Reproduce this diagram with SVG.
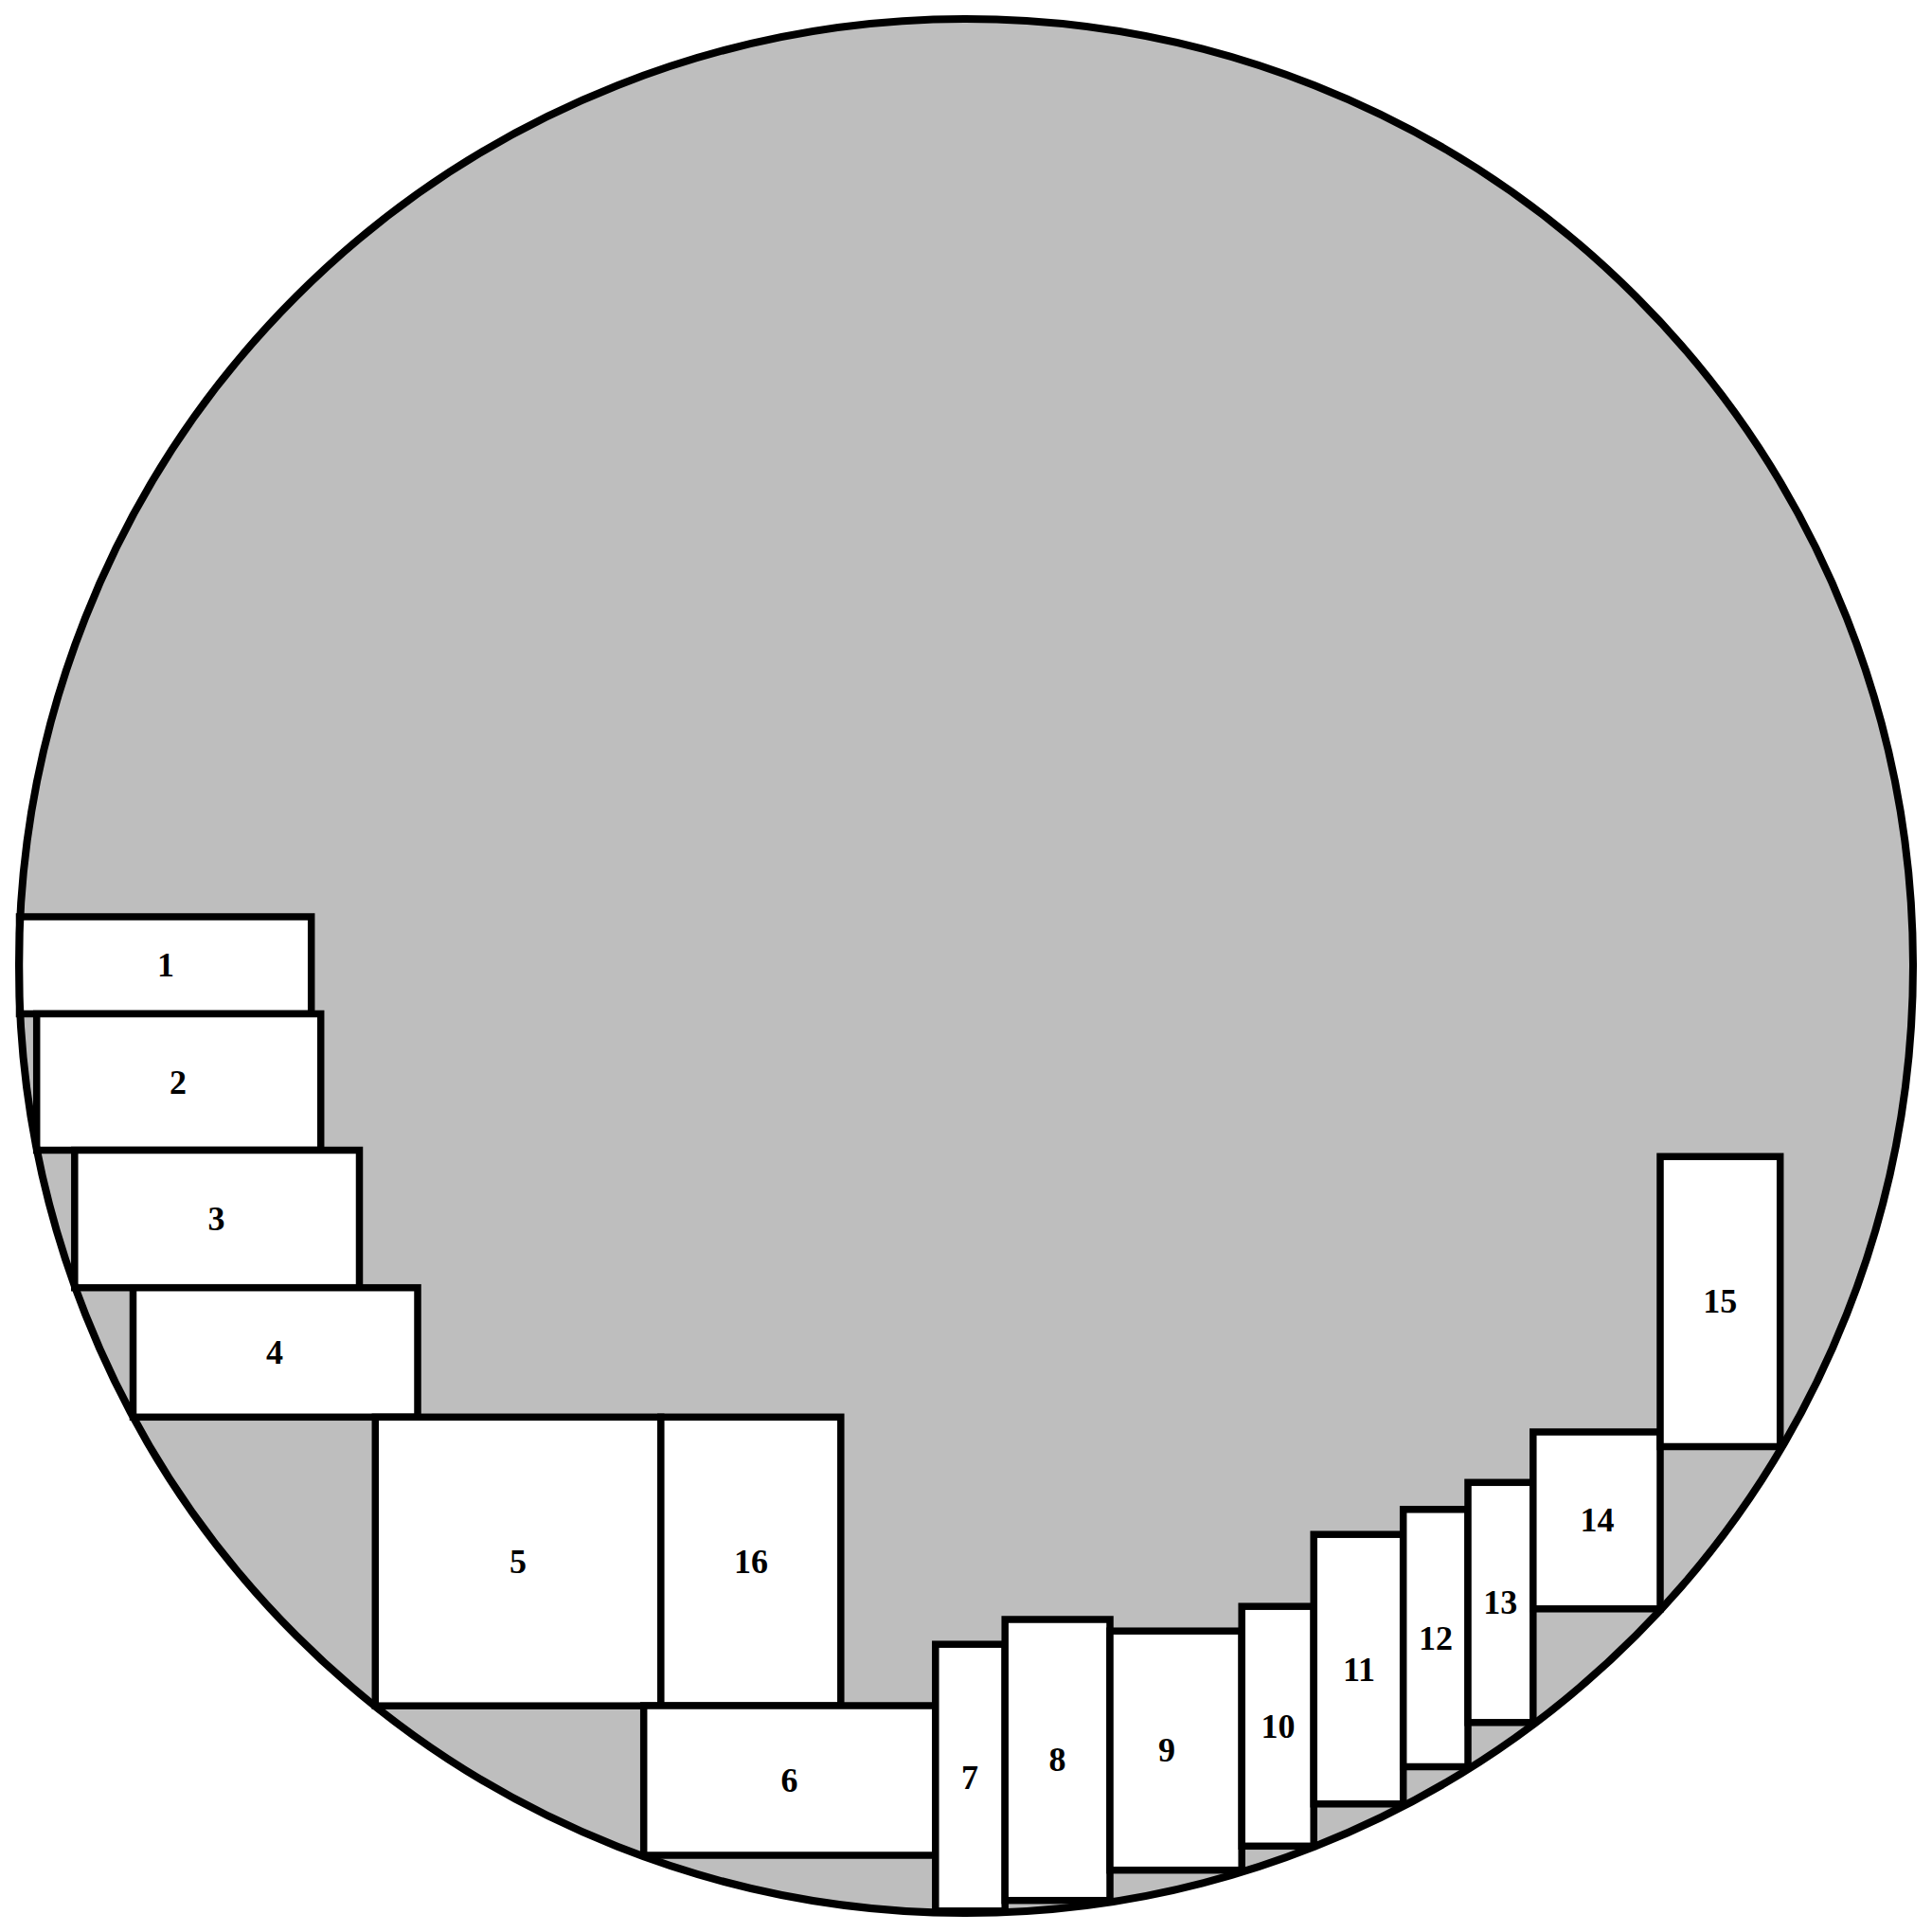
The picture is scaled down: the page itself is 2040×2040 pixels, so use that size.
<svg xmlns="http://www.w3.org/2000/svg" width="2040" height="2040" viewBox="0 0 2040 2040">
<style>
.bg{fill:#ffffff}
.disk{fill:#bebebe;stroke:none}
.rim{fill:none;stroke:#000;stroke-width:8}
.box{fill:#ffffff;stroke:#000;stroke-width:7.5}
.lbl{font-family:"Liberation Serif","Times New Roman",serif;font-weight:bold;font-size:36px;text-anchor:middle;fill:#000}
</style>
<rect class="bg" x="0" y="0" width="2040" height="2040"/>
<circle class="disk" cx="1020" cy="1020" r="1000"/>
<g id="nodes">
<g id="node1"><rect class="box" x="20.5" y="968" width="308.2" height="102.5"/><text class="lbl" x="175" y="1031.3">1</text></g>
<g id="node2"><rect class="box" x="38.7" y="1070.5" width="300" height="144"/><text class="lbl" x="188" y="1154.5">2</text></g>
<g id="node3"><rect class="box" x="78.8" y="1214.5" width="300.7" height="145.2"/><text class="lbl" x="228.5" y="1299.1">3</text></g>
<g id="node4"><rect class="box" x="140.5" y="1359.7" width="300.5" height="136.6"/><text class="lbl" x="290" y="1440">4</text></g>
<g id="node5"><rect class="box" x="396.3" y="1496.3" width="301.5" height="304.9"/><text class="lbl" x="547" y="1660.8">5</text></g>
<g id="node16"><rect class="box" x="697.8" y="1496.3" width="190" height="304.9"/><text class="lbl" x="793" y="1660.8">16</text></g>
<g id="node6"><rect class="box" x="679.7" y="1801" width="308.1" height="158"/><text class="lbl" x="833.5" y="1892">6</text></g>
<g id="node7"><rect class="box" x="987.8" y="1736.2" width="73.4" height="281.6"/><text class="lbl" x="1024" y="1889">7</text></g>
<g id="node8"><rect class="box" x="1061.2" y="1710" width="110.8" height="296.7"/><text class="lbl" x="1116.6" y="1870.4">8</text></g>
<g id="node9"><rect class="box" x="1172" y="1722.2" width="139.2" height="252.5"/><text class="lbl" x="1232" y="1860.4">9</text></g>
<g id="node10"><rect class="box" x="1311.2" y="1696.2" width="76" height="253.1"/><text class="lbl" x="1349.5" y="1834.8">10</text></g>
<g id="node11"><rect class="box" x="1387.2" y="1620.2" width="94.5" height="284.6"/><text class="lbl" x="1435" y="1774.5">11</text></g>
<g id="node12"><rect class="box" x="1481.7" y="1593.8" width="68.3" height="271.7"/><text class="lbl" x="1516" y="1741.6">12</text></g>
<g id="node13"><rect class="box" x="1550" y="1565.3" width="68.8" height="253.5"/><text class="lbl" x="1584.2" y="1704">13</text></g>
<g id="node14"><rect class="box" x="1618.8" y="1512" width="134.2" height="186.8"/><text class="lbl" x="1686.5" y="1617.4">14</text></g>
<g id="node15"><rect class="box" x="1753" y="1221.2" width="126.7" height="306.3"/><text class="lbl" x="1816.2" y="1386.4">15</text></g>
</g>
<circle class="rim" cx="1020" cy="1020" r="1000"/>
</svg>
